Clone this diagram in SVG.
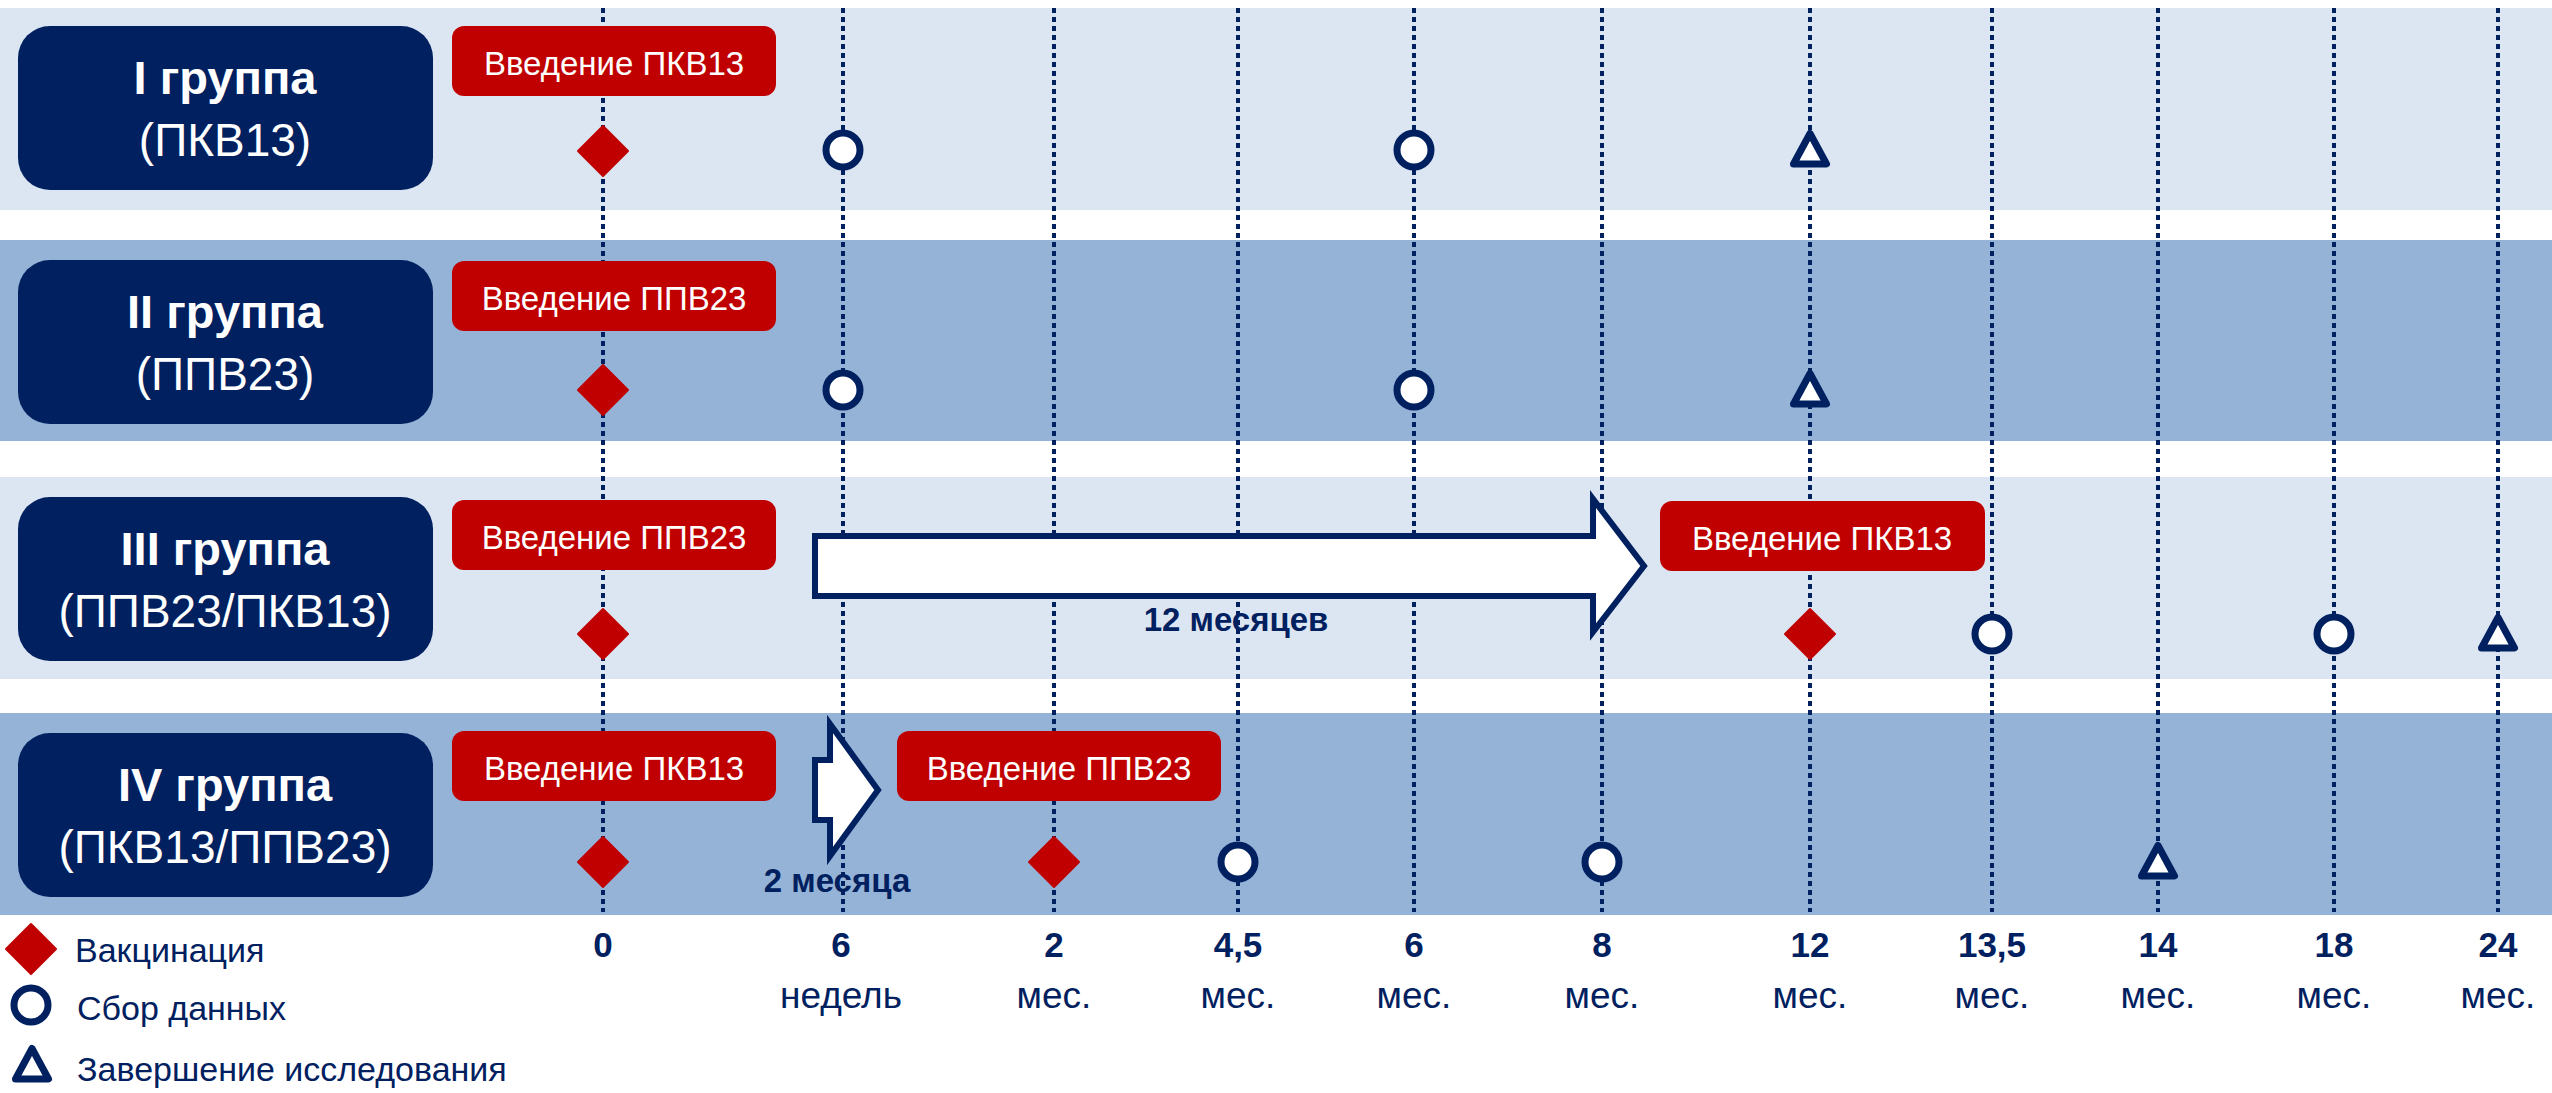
<svg xmlns="http://www.w3.org/2000/svg" width="2552" height="1093" viewBox="0 0 2552 1093">
<style>
.bandL{fill:#DCE6F2}
.bandD{fill:#95B3D7}
.grp{fill:#002060}
.gt1{font-family:"Liberation Sans",Arial,sans-serif;font-weight:bold;font-size:47px;fill:#fff;text-anchor:middle}
.gt2{font-family:"Liberation Sans",Arial,sans-serif;font-size:46px;fill:#fff;text-anchor:middle}
.red{fill:#C00000}
.rt{font-family:"Liberation Sans",Arial,sans-serif;font-size:33px;fill:#fff;text-anchor:middle}
.vl{stroke:#002060;stroke-width:4;stroke-dasharray:5 4;fill:none}
.dia{fill:#C00000;stroke:#C00000;stroke-width:2;stroke-linejoin:round}
.cir{fill:#fff;stroke:#002060;stroke-width:7}
.tri{fill:#fff;stroke:#002060;stroke-width:7;stroke-linejoin:round}
.arr{fill:#fff;stroke:#002060;stroke-width:6;stroke-linejoin:miter}
.lbl{font-family:"Liberation Sans",Arial,sans-serif;font-weight:bold;font-size:33px;fill:#002060;text-anchor:middle}
.num{font-family:"Liberation Sans",Arial,sans-serif;font-weight:bold;font-size:35px;fill:#002060;text-anchor:middle}
.unit{font-family:"Liberation Sans",Arial,sans-serif;font-size:37px;fill:#002060;text-anchor:middle}
.leg{font-family:"Liberation Sans",Arial,sans-serif;font-size:34px;fill:#002060}
</style>
<defs>
<path id="d" d="M0,-25 L25,0 L0,25 L-25,0Z"/>
<path id="t" d="M0,-16.5 L16.5,14 L-16.5,14Z"/>
</defs>

<g id="bands">
<rect class="bandL" x="0" y="8" width="2552" height="202"/>
<rect class="bandD" x="0" y="240" width="2552" height="201"/>
<rect class="bandL" x="0" y="477" width="2552" height="202"/>
<rect class="bandD" x="0" y="713" width="2552" height="202"/>
</g>

<g id="connectors">
<line class="vl" x1="603" y1="8" x2="603" y2="912"/>
<line class="vl" x1="843" y1="8" x2="843" y2="912"/>
<line class="vl" x1="1054" y1="8" x2="1054" y2="912"/>
<line class="vl" x1="1238" y1="8" x2="1238" y2="912"/>
<line class="vl" x1="1414" y1="8" x2="1414" y2="912"/>
<line class="vl" x1="1602" y1="8" x2="1602" y2="912"/>
<line class="vl" x1="1810" y1="8" x2="1810" y2="912"/>
<line class="vl" x1="1992" y1="8" x2="1992" y2="912"/>
<line class="vl" x1="2158" y1="8" x2="2158" y2="912"/>
<line class="vl" x1="2334" y1="8" x2="2334" y2="912"/>
<line class="vl" x1="2498" y1="8" x2="2498" y2="912"/>
<path class="arr" d="M815,536 L1593,536 L1593,499 L1644,566 L1593,632 L1593,596 L815,596 Z"/>
<path class="arr" d="M815,760 L830,760 L830,724 L878,790 L830,856 L830,820 L815,820 Z"/>
</g>

<g id="group1">
<rect class="grp" x="18" y="26" width="415" height="164" rx="32"/>
<text class="gt1" x="225" y="94">I группа</text>
<text class="gt2" x="225" y="156">(ПКВ13)</text>
</g>
<g id="group2">
<rect class="grp" x="18" y="260" width="415" height="164" rx="32"/>
<text class="gt1" x="225" y="328">II группа</text>
<text class="gt2" x="225" y="390">(ППВ23)</text>
</g>
<g id="group3">
<rect class="grp" x="18" y="497" width="415" height="164" rx="32"/>
<text class="gt1" x="225" y="565">III группа</text>
<text class="gt2" x="225" y="627">(ППВ23/ПКВ13)</text>
</g>
<g id="group4">
<rect class="grp" x="18" y="733" width="415" height="164" rx="32"/>
<text class="gt1" x="225" y="801">IV группа</text>
<text class="gt2" x="225" y="863">(ПКВ13/ППВ23)</text>
</g>

<g id="admin1">
<rect class="red" x="452" y="26" width="324" height="70" rx="12"/>
<text class="rt" x="614" y="75">Введение ПКВ13</text>
</g>
<g id="admin2">
<rect class="red" x="452" y="261" width="324" height="70" rx="12"/>
<text class="rt" x="614" y="310">Введение ППВ23</text>
</g>
<g id="admin3a">
<rect class="red" x="452" y="500" width="324" height="70" rx="12"/>
<text class="rt" x="614" y="549">Введение ППВ23</text>
</g>
<g id="admin3b">
<rect class="red" x="1660" y="501" width="325" height="70" rx="12"/>
<text class="rt" x="1822" y="550">Введение ПКВ13</text>
</g>
<g id="admin4a">
<rect class="red" x="452" y="731" width="324" height="70" rx="12"/>
<text class="rt" x="614" y="780">Введение ПКВ13</text>
</g>
<g id="admin4b">
<rect class="red" x="897" y="731" width="324" height="70" rx="12"/>
<text class="rt" x="1059" y="780">Введение ППВ23</text>
</g>

<g id="label12m"><text class="lbl" x="1236" y="631">12 месяцев</text></g>
<g id="label2m"><text class="lbl" x="837" y="892">2 месяца</text></g>

<g id="markers1">
<use href="#d" class="dia" x="603" y="151"/>
<circle class="cir" cx="843" cy="150" r="17"/>
<circle class="cir" cx="1414" cy="150" r="17"/>
<use href="#t" class="tri" x="1810" y="150"/>
</g>
<g id="markers2">
<use href="#d" class="dia" x="603" y="390"/>
<circle class="cir" cx="843" cy="390" r="17"/>
<circle class="cir" cx="1414" cy="390" r="17"/>
<use href="#t" class="tri" x="1810" y="390"/>
</g>
<g id="markers3">
<use href="#d" class="dia" x="603" y="634"/>
<use href="#d" class="dia" x="1810" y="634"/>
<circle class="cir" cx="1992" cy="634" r="17"/>
<circle class="cir" cx="2334" cy="634" r="17"/>
<use href="#t" class="tri" x="2498" y="634"/>
</g>
<g id="markers4">
<use href="#d" class="dia" x="603" y="862"/>
<use href="#d" class="dia" x="1054" y="862"/>
<circle class="cir" cx="1238" cy="862" r="17"/>
<circle class="cir" cx="1602" cy="862" r="17"/>
<use href="#t" class="tri" x="2158" y="862"/>
</g>

<g id="axis">
<text class="num" x="603" y="957">0</text>
<text class="num" x="841" y="957">6</text>
<text class="unit" x="841" y="1008">недель</text>
<text class="num" x="1054" y="957">2</text>
<text class="unit" x="1054" y="1008">мес.</text>
<text class="num" x="1238" y="957">4,5</text>
<text class="unit" x="1238" y="1008">мес.</text>
<text class="num" x="1414" y="957">6</text>
<text class="unit" x="1414" y="1008">мес.</text>
<text class="num" x="1602" y="957">8</text>
<text class="unit" x="1602" y="1008">мес.</text>
<text class="num" x="1810" y="957">12</text>
<text class="unit" x="1810" y="1008">мес.</text>
<text class="num" x="1992" y="957">13,5</text>
<text class="unit" x="1992" y="1008">мес.</text>
<text class="num" x="2158" y="957">14</text>
<text class="unit" x="2158" y="1008">мес.</text>
<text class="num" x="2334" y="957">18</text>
<text class="unit" x="2334" y="1008">мес.</text>
<text class="num" x="2498" y="957">24</text>
<text class="unit" x="2498" y="1008">мес.</text>
</g>

<g id="legend">
<use href="#d" class="dia" x="31" y="949"/>
<text class="leg" x="75" y="962">Вакцинация</text>
<circle class="cir" cx="31" cy="1005" r="17"/>
<text class="leg" x="77" y="1020">Сбор данных</text>
<use href="#t" class="tri" x="32" y="1065"/>
<text class="leg" x="77" y="1081">Завершение исследования</text>
</g>
</svg>
